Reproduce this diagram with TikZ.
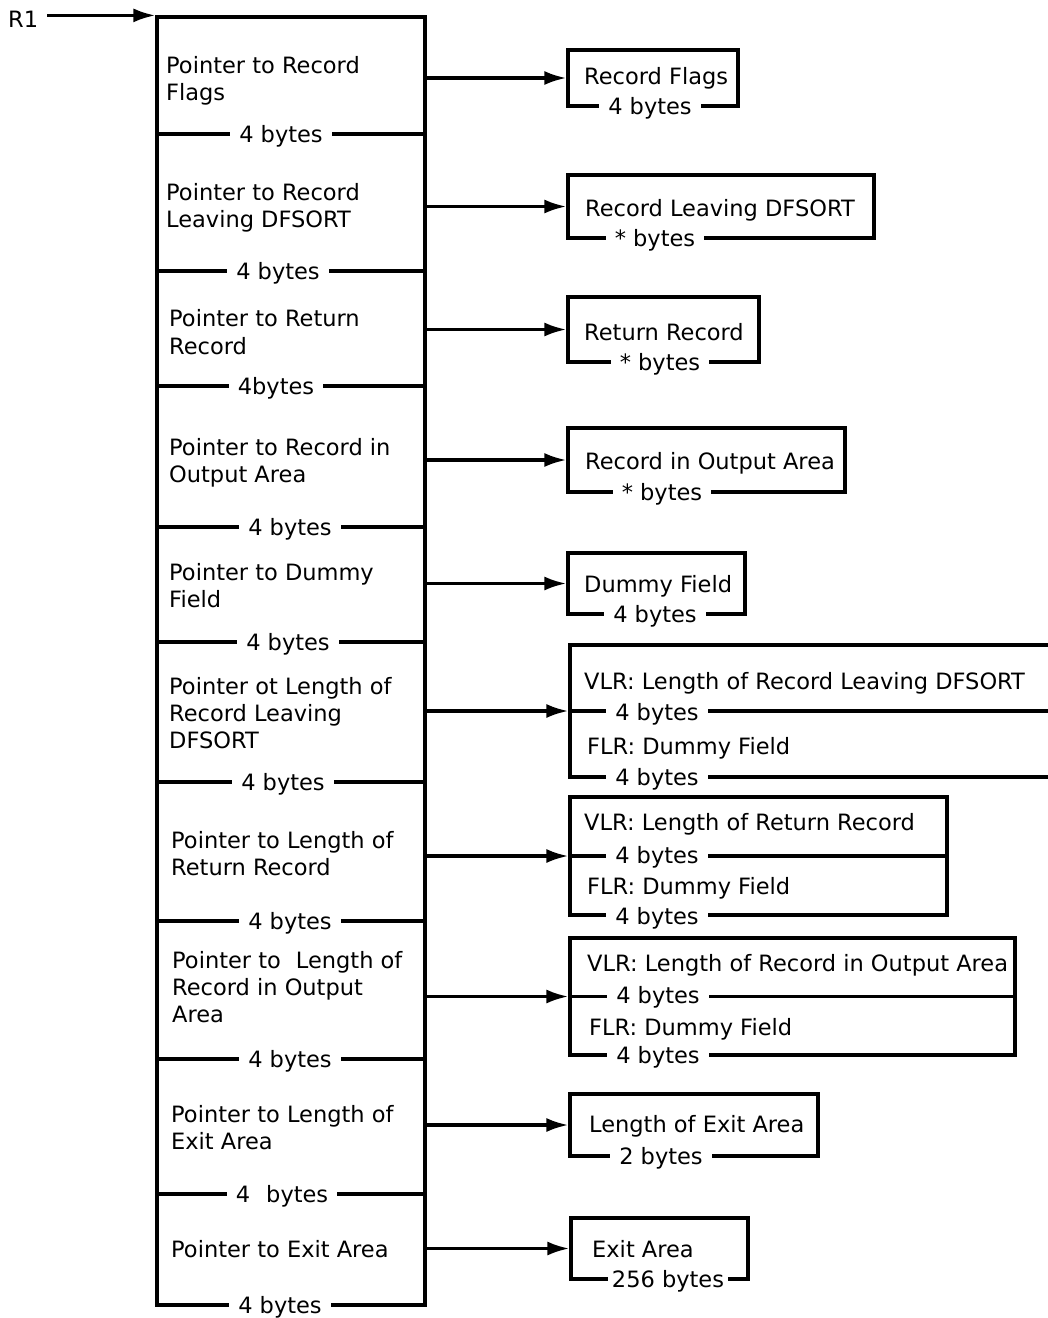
\documentclass[tikz,border=0pt]{standalone}
\usepackage{fontspec}
\setmainfont{DejaVu Sans}
\usetikzlibrary{arrows.meta}
\begin{document}
\begin{tikzpicture}[x=1pt,y=-1pt,
  ln/.style={line width=3.2pt},
  rbox/.style={draw,line width=3.2pt,inner sep=0pt},
  tx/.style={anchor=base west,inner sep=0pt,font=\fontsize{22.5}{27}\selectfont},
  gl/.style={anchor=base,fill=white,inner xsep=9pt,inner ysep=2pt,font=\fontsize{22.5}{27}\selectfont},
  arr/.style={line width=3.2pt,-{Latex[length=22pt,width=14pt]}}]
\useasboundingbox (0,0) rectangle (1048,1318);
\clip (0,0) rectangle (1048,1318);

% main pointer list
\node[rbox,minimum width=268pt,minimum height=1288pt] (main) at (291,661) {};
\foreach \y/\x/\t in {134/281/4 bytes,271/278/4 bytes,386/276/4bytes,527/290/4 bytes,
  642/288/4 bytes,782/283/4 bytes,921/290/4 bytes,1059/290/4 bytes,
  1194/282/4\hspace{0.4em} bytes,1305/280/4 bytes}{
  \draw[ln] (157,\y) -- (425,\y);
  \node[gl] at (\x,\y+8) {\t};
}

% R1
\node[tx] (r1) at (8,27) {R1};
\draw[arr,shorten <=9pt] (main.north west -| r1.east) -- (main.north west);

% left texts
\node[tx] (l1a) at (166,73) {Pointer to Record};
\node[tx] (l1b) at (166,100) {Flags};
\node[tx] (l2a) at (166,200) {Pointer to Record};
\node[tx] (l2b) at (166,227) {Leaving DFSORT};
\node[tx] (l3a) at (169,326) {Pointer to Return};
\node[tx] (l3b) at (169,354) {Record};
\node[tx] (l4a) at (169,455) {Pointer to Record in};
\node[tx] (l4b) at (169,482) {Output Area};
\node[tx] (l5a) at (169,580) {Pointer to Dummy};
\node[tx] (l5b) at (169,607) {Field};
\node[tx] (l6a) at (169,694) {Pointer ot Length of};
\node[tx] (l6b) at (169,721) {Record Leaving};
\node[tx] (l6c) at (169,748) {DFSORT};
\node[tx] (l7a) at (171,848) {Pointer to Length of};
\node[tx] (l7b) at (171,875) {Return Record};
\node[tx] (l8a) at (172,968) {Pointer to\hspace{0.35em} Length of};
\node[tx] (l8b) at (172,995) {Record in Output};
\node[tx] (l8c) at (172,1022) {Area};
\node[tx] (l9a) at (171,1122) {Pointer to Length of};
\node[tx] (l9b) at (171,1149) {Exit Area};
\node[tx] (l10a) at (171,1257) {Pointer to Exit Area};

% right boxes
\node[rbox,minimum width=170pt,minimum height=56pt] (b1) at (653,78) {};
\node[rbox,minimum width=306pt,minimum height=63pt] (b2) at (721,206.5) {};
\node[rbox,minimum width=191pt,minimum height=65pt] (b3) at (663.5,329.5) {};
\node[rbox,minimum width=277pt,minimum height=64pt] (b4) at (706.5,460) {};
\node[rbox,minimum width=177pt,minimum height=61pt] (b5) at (656.5,583.5) {};
\node[rbox,minimum width=500pt,minimum height=132pt] (b6) at (820,711) {};
\node[rbox,minimum width=377pt,minimum height=118pt] (b7) at (758.5,856) {};
\node[rbox,minimum width=445pt,minimum height=117pt] (b8) at (792.5,996.5) {};
\node[rbox,minimum width=248pt,minimum height=62pt] (b9) at (694,1125) {};
\node[rbox,minimum width=177pt,minimum height=61pt] (b10) at (659.5,1248.5) {};

\draw[ln] (b6.west) -- (b6.east);
\draw[ln] (b7.west) -- (b7.east);
\draw[ln] (b8.west) -- (b8.east);

% arrows
\foreach \b in {b1,b2,b3,b4,b5,b6,b7,b8,b9,b10}{
  \draw[arr] (main.east |- \b.west) -- (\b.west);
}

% right texts
\node[tx] (t1) at (584,84) {Record Flags};
\node[gl] (g1) at (650,114) {4 bytes};
\node[tx] (t2) at (585,216) {Record Leaving DFSORT};
\node[gl] (g2) at (655,246) {* bytes};
\node[tx] (t3) at (584,340) {Return Record};
\node[gl] (g3) at (660,370) {* bytes};
\node[tx] (t4) at (585,469) {Record in Output Area};
\node[gl] (g4) at (662,500) {* bytes};
\node[tx] (t5) at (584,592) {Dummy Field};
\node[gl] (g5) at (655,622) {4 bytes};
\node[tx] (t6a) at (584,689) {VLR: Length of Record Leaving DFSORT};
\node[gl] (g6a) at (657,720) {4 bytes};
\node[tx] (t6b) at (587,754) {FLR: Dummy Field};
\node[gl] (g6b) at (657,785) {4 bytes};
\node[tx] (t7a) at (584,830) {VLR: Length of Return Record};
\node[gl] (g7a) at (657,863) {4 bytes};
\node[tx] (t7b) at (587,894) {FLR: Dummy Field};
\node[gl] (g7b) at (657,924) {4 bytes};
\node[tx] (t8a) at (587,971) {VLR: Length of Record in Output Area};
\node[gl] (g8a) at (658,1003) {4 bytes};
\node[tx] (t8b) at (589,1035) {FLR: Dummy Field};
\node[gl] (g8b) at (658,1063) {4 bytes};
\node[tx] (t9) at (589,1132) {Length of Exit Area};
\node[gl] (g9) at (661,1164) {2 bytes};
\node[tx] (t10) at (592,1257) {Exit Area};
\node[gl,inner xsep=4pt] (g10) at (668,1287) {256 bytes};
\end{tikzpicture}
\end{document}
